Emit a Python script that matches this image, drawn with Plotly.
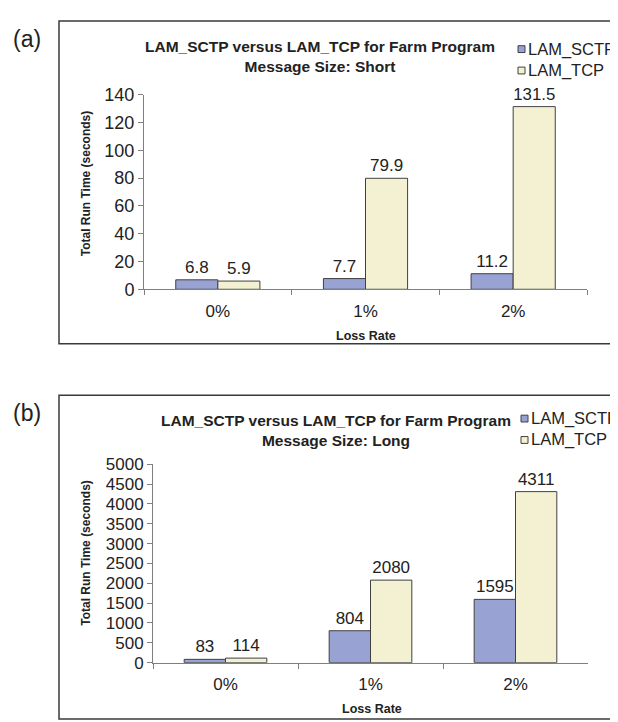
import plotly.graph_objects as go

# ---------------- data ----------------
categories = ["0%", "1%", "2%"]
short_sctp = [6.8, 7.7, 11.2]
short_tcp = [5.9, 79.9, 131.5]
long_sctp = [83, 804, 1595]
long_tcp = [114, 2080, 4311]
series_names = ["LAM_SCTP", "LAM_TCP"]
title_a = "LAM_SCTP versus LAM_TCP for Farm Program<br>Message Size: Short"
title_b = "LAM_SCTP versus LAM_TCP for Farm Program<br>Message Size: Long"
y_title = "Total Run Time (seconds)"
x_title = "Loss Rate"

# ---------------- style ----------------
W, H = 618, 722
FONT = "Arial, Liberation Sans, sans-serif"
C_SCTP = "#99A3D3"
C_TCP = "#F3F1D2"
EDGE = "#404040"
AX = "#7f7f7f"
TXT = "#222222"
series_colors = [C_SCTP, C_TCP]


def px(x):
    return x / W


def py(y):
    return 1 - y / H


fig = go.Figure()

panels = [
    dict(xa="x", ya="y", vals=[short_sctp, short_tcp],
         leg_x=520, leg_y=[32, 54]),
    dict(xa="x2", ya="y2", vals=[long_sctp, long_tcp],
         leg_x=523, leg_y=[412, 434]),
]

for p in panels:
    for name, vals, col in zip(series_names, p["vals"], series_colors):
        fig.add_trace(go.Bar(
            x=categories, y=vals, name=name, xaxis=p["xa"], yaxis=p["ya"],
            marker=dict(color=col, line=dict(color=EDGE, width=1)),
            texttemplate="%{y}", textposition="outside",
            textfont=dict(family=FONT, size=17, color=TXT),
            cliponaxis=False, showlegend=False,
        ))


def axis_common(size):
    return dict(showline=True, linecolor=AX, linewidth=1, ticks="outside",
                ticklen=5, tickcolor=AX, showgrid=False, zeroline=False,
                tickfont=dict(family=FONT, size=size, color=TXT))


fig.update_layout(
    width=W, height=H, autosize=False,
    margin=dict(l=0, r=0, t=0, b=0),
    paper_bgcolor="white", plot_bgcolor="white",
    barmode="group", bargap=0.43, bargroupgap=0,
    showlegend=False,
    font=dict(family=FONT, color=TXT),
    xaxis=dict(domain=[px(136), px(579)], anchor="y", type="category",
               tickson="boundaries", ticklabelstandoff=6, **axis_common(17)),
    yaxis=dict(domain=[py(279), py(79)], anchor="x", range=[0, 140],
               dtick=20, **axis_common(18)),
    xaxis2=dict(domain=[px(145), px(580)], anchor="y2", type="category",
                tickson="boundaries", ticklabelstandoff=6, **axis_common(17)),
    yaxis2=dict(domain=[py(663), py(459)], anchor="x2", range=[0, 5000],
                dtick=500, tickformat="d", **axis_common(17)),
)

# panel frames
for (y0, y1) in [(3, 335), (388, 721)]:
    fig.add_shape(type="rect", xref="paper", yref="paper",
                  x0=px(51), x1=px(640), y0=py(y1), y1=py(y0),
                  line=dict(color="#3a3a3a", width=1.5))

ann = []
# legends: small outlined squares + series names
for p in panels:
    for name, col, yc in zip(series_names, series_colors, p["leg_y"]):
        sx1 = p["leg_x"] - 3
        fig.add_shape(type="rect", xref="paper", yref="paper",
                      x0=px(sx1 - 7), x1=px(sx1), y0=py(yc + 3.5),
                      y1=py(yc - 3.5), fillcolor=col,
                      line=dict(color=EDGE, width=1))
        ann.append(dict(text=name, x=px(p["leg_x"] - 2), y=py(yc),
                        xanchor="left", font=dict(size=16.5)))

# panel letters
ann.append(dict(text="(a)", x=px(19), y=py(22), font=dict(size=23)))
ann.append(dict(text="(b)", x=px(19), y=py(406), font=dict(size=23)))
# titles
ann.append(dict(text="<b>" + title_a.replace("<br>", "</b><br><b>") + "</b>",
                x=px(312), y=py(40), font=dict(size=15.5)))
ann.append(dict(text="<b>" + title_b.replace("<br>", "</b><br><b>") + "</b>",
                x=px(328), y=py(424), font=dict(size=15.5)))
# y titles
ann.append(dict(text="<b>" + y_title + "</b>", x=px(78), y=py(170),
                textangle=-90, font=dict(size=12)))
ann.append(dict(text="<b>" + y_title + "</b>", x=px(78), y=py(550),
                textangle=-90, font=dict(size=12)))
# x titles
ann.append(dict(text="<b>" + x_title + "</b>", x=px(358), y=py(327),
                font=dict(size=12.5)))
ann.append(dict(text="<b>" + x_title + "</b>", x=px(364), y=py(711),
                font=dict(size=12.5)))

for a in ann:
    a.setdefault("xanchor", "center")
    a.update(xref="paper", yref="paper", showarrow=False, yanchor="middle")
    a["font"].update(family=FONT, color=TXT)
    fig.add_annotation(**a)

fig.write_html("out.html")
